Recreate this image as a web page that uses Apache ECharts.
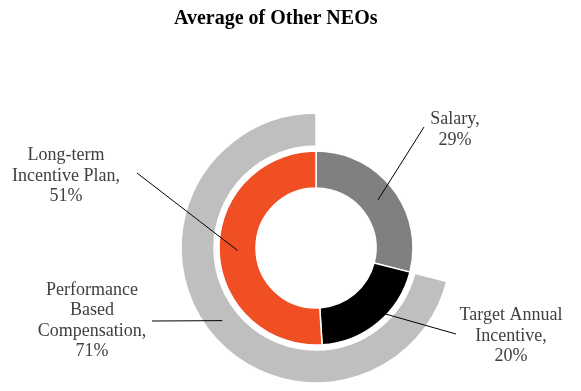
<!DOCTYPE html>
<html><head><meta charset="utf-8">
<script src="https://cdn.jsdelivr.net/npm/echarts@6/dist/echarts.min.js"></script>
<style>html,body{margin:0;padding:0;background:#fff}#c{width:581px;height:391px}</style>
</head><body><div id="c"></div>
<script>
const chartTitle = 'Average of Other NEOs';
const innerNames = ['Salary', 'Target Annual Incentive', 'Long-term Incentive Plan'];
const innerLabels = ['Salary', 'Target Annual\nIncentive', 'Long-term\nIncentive Plan'];
const innerValues = [29, 20, 51];
const outerNames = ['Salary', 'Performance Based Compensation'];
const outerLabels = ['', 'Performance\nBased\nCompensation'];
const outerValues = [29, 71];

const innerColors = ['#808080', '#000000', '#F04E23'];
const outerColors = ['rgba(0,0,0,0)', '#BFBFBF'];
const CX = 316, CY = 248;
const R_IN = [60, 97], R_OUT = [102, 135];
const innerLabelPos = [{x:455, y:130, end:[424,127]}, {x:511, y:336, end:[456,334]}, {x:66, y:176, end:[137,173]}];
const outerLabelPos = [null, {x:92, y:321, end:[152,321]}];

function midPoint(values, i, r) {
  const total = values.reduce((a, b) => a + b, 0);
  let before = 0;
  for (let k = 0; k < i; k++) before += values[k];
  const ang = (before + values[i] / 2) / total * 2 * Math.PI;
  return [CX + r * Math.sin(ang), CY - r * Math.cos(ang)];
}

const labelStyle = {
  fontFamily: 'Liberation Serif', fontSize: 18, lineHeight: 20.5, color: '#404040'
};
const clear = 'rgba(0,0,0,0)';

function ringSeries(values, names, colors, radius, z, withLabels, labels, pos) {
  return {
    type: 'pie', z: z, center: [CX, CY], radius: radius, silent: true, clockwise: true, startAngle: 90,
    itemStyle: withLabels ? {color: clear} : {borderColor: '#fff', borderWidth: 1.5},
    data: values.map((v, i) => ({
      value: v, name: names[i],
      itemStyle: {color: withLabels ? clear : colors[i], borderColor: withLabels ? clear : (colors[i] === clear ? clear : '#fff')},
      label: {show: withLabels && !!labels[i]},
      labelLine: {show: withLabels && !!labels[i]}
    })),
    label: Object.assign({show: withLabels, position: 'outside', formatter: p => labels[p.dataIndex] + ',\n' + p.value + '%', align: 'center'}, labelStyle),
    labelLine: {show: withLabels, lineStyle: {color: '#000', width: 1}},
    labelLayout: withLabels ? function (params) {
      const p = pos[params.dataIndex];
      if (!p) return {};
      return {x: p.x, y: p.y, align: 'center', verticalAlign: 'middle',
        labelLinePoints: [midPoint(values, params.dataIndex, (radius[0] + radius[1]) / 2), p.end]};
    } : undefined
  };
}

const chart = echarts.init(document.getElementById('c'), null, {renderer: 'canvas'});
chart.setOption({
  animation: false,
  backgroundColor: '#fff',
  title: {
    text: chartTitle, left: 169, top: 4,
    textStyle: {fontFamily: 'Liberation Serif', fontSize: 20, fontWeight: 'bold', color: '#000'}
  },
  series: [
    ringSeries(outerValues, outerNames, outerColors, R_OUT, 2, false, outerLabels, outerLabelPos),
    ringSeries(innerValues, innerNames, innerColors, R_IN, 3, false, innerLabels, innerLabelPos),
    ringSeries(outerValues, outerNames, outerColors, R_OUT, 10, true, outerLabels, outerLabelPos),
    ringSeries(innerValues, innerNames, innerColors, R_IN, 11, true, innerLabels, innerLabelPos)
  ]
});
</script></body></html>
